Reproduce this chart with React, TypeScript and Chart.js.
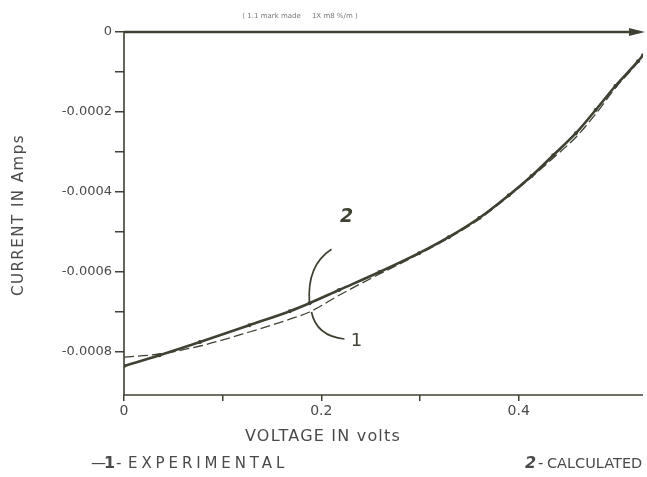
import React, { useEffect, useRef } from "react";
import { Chart, registerables } from "chart.js";

Chart.register(...registerables);

const voltage = [0, 0.036, 0.077, 0.127, 0.168, 0.188, 0.218, 0.259, 0.299, 0.329, 0.36, 0.39, 0.413, 0.435, 0.458, 0.478, 0.498, 0.521, 0.526];
const calculated = [-0.000835, -0.000808, -0.000775, -0.000733, -0.000698, -0.000678, -0.000645, -0.0006, -0.000553, -0.000513, -0.000465, -0.000408, -0.00036, -0.000308, -0.000253, -0.000195, -0.000135, -0.000073, -0.000058];
const experimental = [-0.000813, -0.000805, -0.000785, -0.00075, -0.000718, -0.0007, -0.000658, -0.000605, -0.000555, -0.000515, -0.000468, -0.00041, -0.000363, -0.000315, -0.000263, -0.000205, -0.00014, -0.000075, -0.000058];
const xTickLabels: Record<string, string> = { "0": "0", "0.2": "0.2", "0.4": "0.4" };
const yTickLabels: Record<string, string> = { "0": "0", "-0.0002": "-0.0002", "-0.0004": "-0.0004", "-0.0006": "-0.0006", "-0.0008": "-0.0008" };

const INK = "#3d4233";
const TEXT = "#4a4a4a";
const FONT = "'DejaVu Sans', sans-serif";

export default function App() {
  const ref = useRef<HTMLCanvasElement>(null);
  useEffect(() => {
    document.body.style.margin = "0";
    const canvas = ref.current!;
    const decor = {
      id: "decor",
      afterDraw(chart: any) {
        const { ctx, chartArea: a, scales } = chart;
        const xs = scales.x, ys = scales.y;
        ctx.save();
        // frame: top, left, bottom
        ctx.strokeStyle = INK;
        ctx.lineWidth = 2.4;
        ctx.beginPath();
        ctx.moveTo(a.left, a.top);
        ctx.lineTo(a.right - 4, a.top);
        ctx.stroke();
        ctx.fillStyle = INK;
        ctx.beginPath();
        ctx.moveTo(a.right - 14, a.top - 4);
        ctx.lineTo(a.right + 2, a.top);
        ctx.lineTo(a.right - 14, a.top + 4);
        ctx.closePath();
        ctx.fill();
        ctx.lineWidth = 1.6;
        ctx.beginPath();
        ctx.moveTo(a.left, a.top);
        ctx.lineTo(a.left, a.bottom);
        ctx.lineTo(a.right, a.bottom);
        ctx.stroke();
        // axis titles
        ctx.fillStyle = TEXT;
        ctx.textBaseline = "middle";
        ctx.textAlign = "center";
        ctx.font = `16px ${FONT}`;
        (ctx as any).letterSpacing = "1.2px";
        ctx.fillText("VOLTAGE IN volts", 323, 437);
        ctx.save();
        ctx.translate(19, 215);
        ctx.rotate(-Math.PI / 2);
        ctx.font = `15px ${FONT}`;
        (ctx as any).letterSpacing = "1.5px";
        ctx.fillText("CURRENT IN Amps", 0, 0);
        ctx.restore();
        // legend
        ctx.textAlign = "left";
        ctx.font = `15px ${FONT}`;
        (ctx as any).letterSpacing = "0px";
        ctx.fillText("\u2014", 91, 464);
        ctx.font = `bold 16px ${FONT}`;
        ctx.fillText("1", 104, 464);
        ctx.font = `15px ${FONT}`;
        ctx.fillText("-", 116, 464);
        (ctx as any).letterSpacing = "3.9px";
        ctx.fillText("EXPERIMENTAL", 128, 464);
        (ctx as any).letterSpacing = "0px";
        ctx.font = `bold italic 16px ${FONT}`;
        ctx.fillText("2", 525, 464);
        ctx.font = `15px ${FONT}`;
        ctx.fillText("-", 538, 464);
        ctx.font = `14.5px ${FONT}`;
        ctx.fillText("CALCULATED", 547, 464);
        // top note
        ctx.font = `7px ${FONT}`;
        ctx.textAlign = "center";
        ctx.fillStyle = "#777";
        ctx.fillText("( 1.1 mark made     1X m8 %/m )", 300, 16);
        // annotations
        const p = (v: number, c: number) => [xs.getPixelForValue(v), ys.getPixelForValue(c)];
        ctx.strokeStyle = INK;
        ctx.lineWidth = 1.7;
        const [ax, ay] = p(0.188, -0.000678);
        ctx.beginPath();
        ctx.moveTo(ax, ay);
        ctx.quadraticCurveTo(ax - 3, ay - 38, ax + 22, ay - 54);
        ctx.stroke();
        const [bx, by] = p(0.19, -0.0007);
        ctx.beginPath();
        ctx.moveTo(bx, by);
        ctx.quadraticCurveTo(bx + 5, by + 24, bx + 33, by + 27);
        ctx.stroke();
        ctx.fillStyle = INK;
        ctx.font = `bold italic 19px ${FONT}`;
        ctx.textAlign = "center";
        ctx.fillText("2", ax + 37, ay - 86);
        ctx.font = `18px ${FONT}`;
        ctx.fillText("1", bx + 45, by + 29);
        ctx.restore();
      },
    };
    const chart = new Chart(canvas, {
      type: "line",
      data: {
        datasets: [
          {
            label: "Experimental",
            data: voltage.map((v, i) => ({ x: v, y: experimental[i] })),
            borderColor: INK,
            borderWidth: 1.3,
            borderDash: [10, 4],
            pointRadius: 0,
            cubicInterpolationMode: "monotone",
          },
          {
            label: "Calculated",
            data: voltage.map((v, i) => ({ x: v, y: calculated[i] })),
            borderColor: INK,
            borderWidth: 2.6,
            pointRadius: 2,
            pointBackgroundColor: INK,
            pointBorderWidth: 0,
            cubicInterpolationMode: "monotone",
          },
        ],
      },
      options: {
        animation: false,
        responsive: false,
        layout: { padding: { top: 32, right: 2, left: 0, bottom: 0 } },
        plugins: { legend: { display: false }, tooltip: { enabled: false } },
        scales: {
          x: {
            type: "linear",
            min: 0,
            max: 0.526,
            border: { display: false },
            grid: { drawOnChartArea: false, color: INK, tickLength: 6, lineWidth: 1.5 },
            afterBuildTicks: (s: any) => {
              s.ticks = [0, 0.1, 0.2, 0.3, 0.4].map((v) => ({ value: v }));
            },
            afterFit: (s: any) => { s.height = 82; },
            ticks: {
              color: TEXT,
              font: { size: 14, family: FONT },
              padding: 2,
              maxRotation: 0,
              autoSkip: false,
              callback: (v: any) => xTickLabels[String(Math.round(Number(v) * 10) / 10)] ?? "",
            },
          },
          y: {
            type: "linear",
            min: -0.0009075,
            max: 0,
            border: { display: false },
            grid: { drawOnChartArea: false, color: INK, tickLength: 9, lineWidth: 1.5 },
            afterBuildTicks: (s: any) => {
              s.ticks = [0, -0.0001, -0.0002, -0.0003, -0.0004, -0.0005, -0.0006, -0.0007, -0.0008].map((v) => ({ value: v }));
            },
            afterFit: (s: any) => { s.width = 124; },
            ticks: {
              color: TEXT,
              font: { size: 13, family: FONT },
              padding: 3,
              autoSkip: false,
              callback: (v: any) => yTickLabels[String(Math.round(Number(v) * 10000) / 10000)] ?? "",
            },
          },
        },
      },
      plugins: [decor],
    } as any);
    return () => chart.destroy();
  }, []);
  return <canvas ref={ref} width={647} height={477} style={{ display: "block" }} />;
}
